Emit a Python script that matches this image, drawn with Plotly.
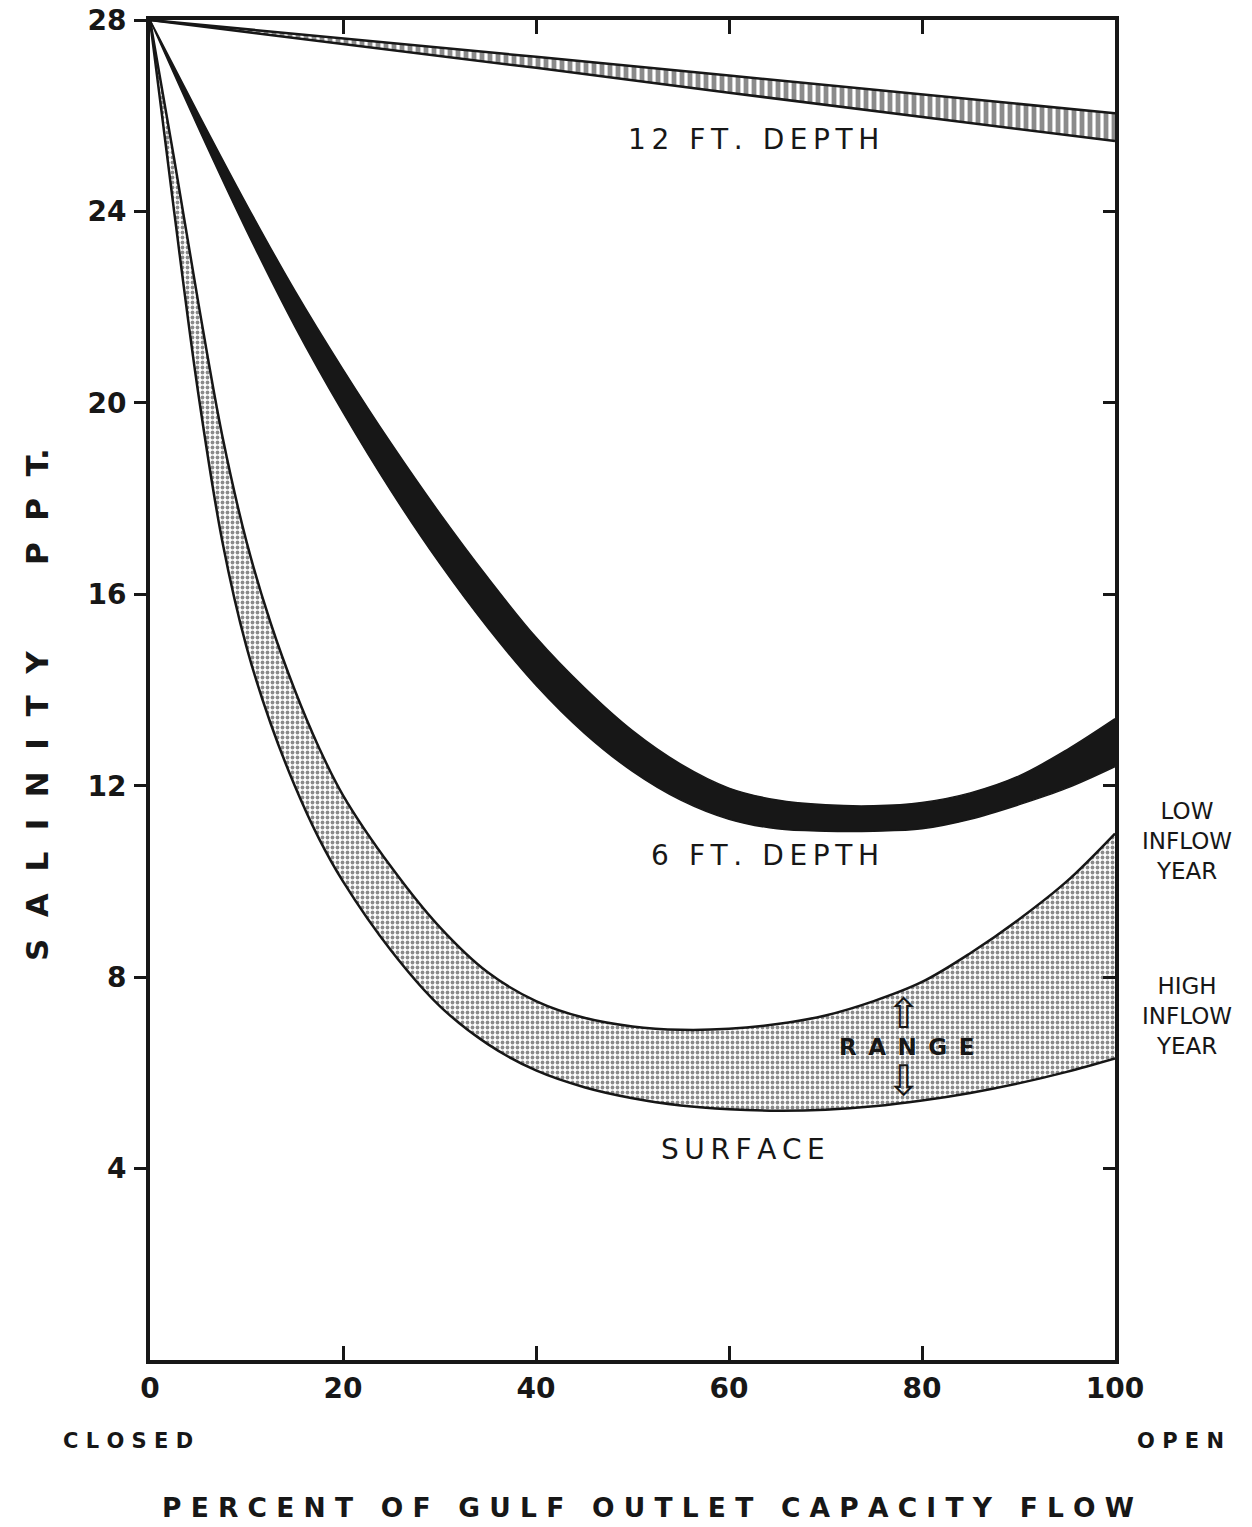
import plotly.graph_objects as go

# percent of gulf outlet capacity flow
flow = [0, 5, 10, 15, 20, 25, 30, 35, 40, 45, 50, 55, 60, 65, 70, 75, 80, 85, 90, 95, 100]

# 12 ft depth band (ppt)
deep12_flow = [0, 20, 40, 60, 80, 100]
deep12_upper = [28.0, 27.62, 27.23, 26.84, 26.45, 26.05]
deep12_lower = [28.0, 27.5, 27.0, 26.48, 25.97, 25.47]

# 6 ft depth band (ppt)
mid6_upper = [28.0, 26.05, 24.15, 22.35, 20.7, 19.15, 17.7, 16.35, 15.1, 14.05, 13.15,
              12.45, 11.95, 11.7, 11.6, 11.58, 11.65, 11.85, 12.2, 12.75, 13.4]
mid6_lower = [28.0, 25.75, 23.6, 21.6, 19.8, 18.15, 16.65, 15.3, 14.1, 13.1, 12.3,
              11.7, 11.3, 11.1, 11.05, 11.05, 11.1, 11.3, 11.6, 11.95, 12.4]

# surface band (ppt): low inflow year (upper) / high inflow year (lower)
surf_flow = [0, 2.5, 5, 7.5, 10, 12.5, 15, 17.5, 20, 25, 30, 35, 40, 45, 50,
             55, 60, 65, 70, 75, 80, 85, 90, 95, 100]
surf_low_inflow = [28.0, 25.1, 22.1, 19.3, 17.1, 15.4, 14.0, 12.8, 11.8, 10.3, 9.05,
                   8.1, 7.5, 7.15, 6.97, 6.9, 6.92, 7.02, 7.2, 7.5, 7.9, 8.5, 9.2, 10.0, 11.0]
surf_high_inflow = [28.0, 24.0, 20.2, 17.1, 14.9, 13.3, 12.0, 10.9, 10.0, 8.55, 7.4,
                    6.6, 6.05, 5.7, 5.47, 5.32, 5.24, 5.21, 5.23, 5.3, 5.42, 5.58, 5.78, 6.02, 6.3]

x_ticks = [0, 20, 40, 60, 80, 100]
y_ticks = [4, 8, 12, 16, 20, 24, 28]
y_right_ticks = [4, 8, 12, 16, 20, 24]

INK = "#171717"
FONT = "DejaVu Sans"


def spaced(s, gap="\u2009"):
    # crude letter spacing for the hand-lettered look
    return gap.join(list(s))


fig = go.Figure()

edge = dict(color=INK, width=2.5)

# 12 ft band, hatched
fig.add_trace(go.Scatter(x=deep12_flow, y=deep12_lower, mode="lines", line=edge,
                         hoverinfo="skip", showlegend=False))
fig.add_trace(go.Scatter(x=deep12_flow, y=deep12_upper, mode="lines", line=edge,
                         fill="tonexty", fillcolor="white",
                         fillpattern=dict(shape="|", fgcolor=INK, bgcolor="white",
                                          size=8, solidity=0.6),
                         hoverinfo="skip", showlegend=False))

# 6 ft band, solid black
fig.add_trace(go.Scatter(x=flow, y=mid6_lower, mode="lines", line=dict(color=INK, width=1.5),
                         line_shape="spline", hoverinfo="skip", showlegend=False))
fig.add_trace(go.Scatter(x=flow, y=mid6_upper, mode="lines", line=dict(color=INK, width=1.5),
                         line_shape="spline", fill="tonexty", fillcolor=INK,
                         hoverinfo="skip", showlegend=False))

# surface band, stippled
fig.add_trace(go.Scatter(x=surf_flow, y=surf_high_inflow, mode="lines", line=edge,
                         line_shape="spline", hoverinfo="skip", showlegend=False))
fig.add_trace(go.Scatter(x=surf_flow, y=surf_low_inflow, mode="lines", line=edge,
                         line_shape="spline", fill="tonexty", fillcolor="white",
                         fillpattern=dict(shape=".", fgcolor=INK, bgcolor="white",
                                          size=5, solidity=0.45),
                         hoverinfo="skip", showlegend=False))

# dummy trace so the right-hand axis gets drawn
fig.add_trace(go.Scatter(x=[0], y=[0], yaxis="y2", mode="lines", line=dict(width=0),
                         hoverinfo="skip", showlegend=False))

txt = dict(family=FONT, size=28, color=INK)

fig.add_annotation(x=62.5, y=25.5, text=spaced("12 FT. DEPTH"), showarrow=False, font=txt)
fig.add_annotation(x=63.7, y=10.55, text=spaced("6 FT. DEPTH"), showarrow=False, font=txt)
fig.add_annotation(x=61.4, y=4.4, text=spaced("SURFACE"), showarrow=False, font=txt)
fig.add_annotation(x=78.4, y=6.55, text=spaced("RANGE", "\u2002"), showarrow=False,
                   font=dict(family=FONT, size=23, color=INK, weight="bold"))
fig.add_annotation(x=78.1, y=7.25, text="⇧", showarrow=False,
                   font=dict(family=FONT, size=42, color=INK))
fig.add_annotation(x=78.1, y=5.85, text="⇩", showarrow=False,
                   font=dict(family=FONT, size=42, color=INK))
fig.add_annotation(x=1.0746, y=(10.85 / 28), xref="paper", yref="paper",
                   text="LOW<br>INFLOW<br>YEAR",
                   showarrow=False, xanchor="center", font=dict(family=FONT, size=23, color=INK))
fig.add_annotation(x=1.0746, y=(6.25 / 28), xref="paper", yref="paper",
                   text="HIGH<br>INFLOW<br>YEAR",
                   showarrow=False, xanchor="center", font=dict(family=FONT, size=23, color=INK))
fig.add_annotation(x=-0.0228, y=-0.0604, xref="paper", yref="paper", text="C L O S E D",
                   showarrow=False, xanchor="center", yanchor="middle",
                   font=dict(family=FONT, size=21, color=INK, weight="bold"))
fig.add_annotation(x=1.068, y=-0.0604, xref="paper", yref="paper", text="O P E N",
                   showarrow=False, xanchor="center", yanchor="middle",
                   font=dict(family=FONT, size=21, color=INK, weight="bold"))

# axis titles as free text so they sit where the drawing has them
fig.add_annotation(x=0.516, y=-0.1104, xref="paper", yref="paper",
                   text="P E R C E N T   O F   G U L F   O U T L E T   C A P A C I T Y   F L O W",
                   showarrow=False, xanchor="center", yanchor="middle",
                   font=dict(family=FONT, size=26.5, color=INK, weight="bold"))
fig.add_annotation(x=-0.117, y=0.4888, xref="paper", yref="paper", textangle=-90,
                   text="S  A  L  I  N  I  T  Y        P  P  T.",
                   showarrow=False, xanchor="center", yanchor="middle",
                   font=dict(family=FONT, size=31, color=INK, weight="bold"))

fig.update_layout(
    width=1252, height=1527,
    margin=dict(l=150, r=137, t=20, b=167, autoexpand=False),
    plot_bgcolor="white", paper_bgcolor="white",
    font=dict(family=FONT, color=INK),
    xaxis=dict(range=[0, 100], tickvals=x_ticks, ticks="inside", ticklen=14, tickwidth=3,
               tickcolor=INK, showline=True, linewidth=4, linecolor=INK, mirror="ticks",
               showgrid=False, zeroline=False, automargin=False, ticklabelstandoff=0,
               ticklabeloverflow="allow",
               tickfont=dict(size=28, color=INK, weight="bold")),
    yaxis=dict(range=[0, 28], tickvals=y_ticks, ticks="outside", ticklen=12, tickwidth=3,
               tickcolor=INK, showline=True, linewidth=4, linecolor=INK, mirror=True,
               showgrid=False, zeroline=False, automargin=False, ticklabelstandoff=2,
               ticklabeloverflow="allow",
               tickfont=dict(size=28, color=INK, weight="bold")),
    yaxis2=dict(range=[0, 28], overlaying="y", side="right", tickvals=y_right_ticks,
                ticks="inside", ticklen=12, tickwidth=3, tickcolor=INK, showticklabels=False,
                showline=False, showgrid=False, zeroline=False, automargin=False),
)

# drop the browser's default 8px body margin so the figure fills the window exactly
fig.write_html("out.html", config={"displayModeBar": False},
               post_script="document.body.style.margin = '0';")
